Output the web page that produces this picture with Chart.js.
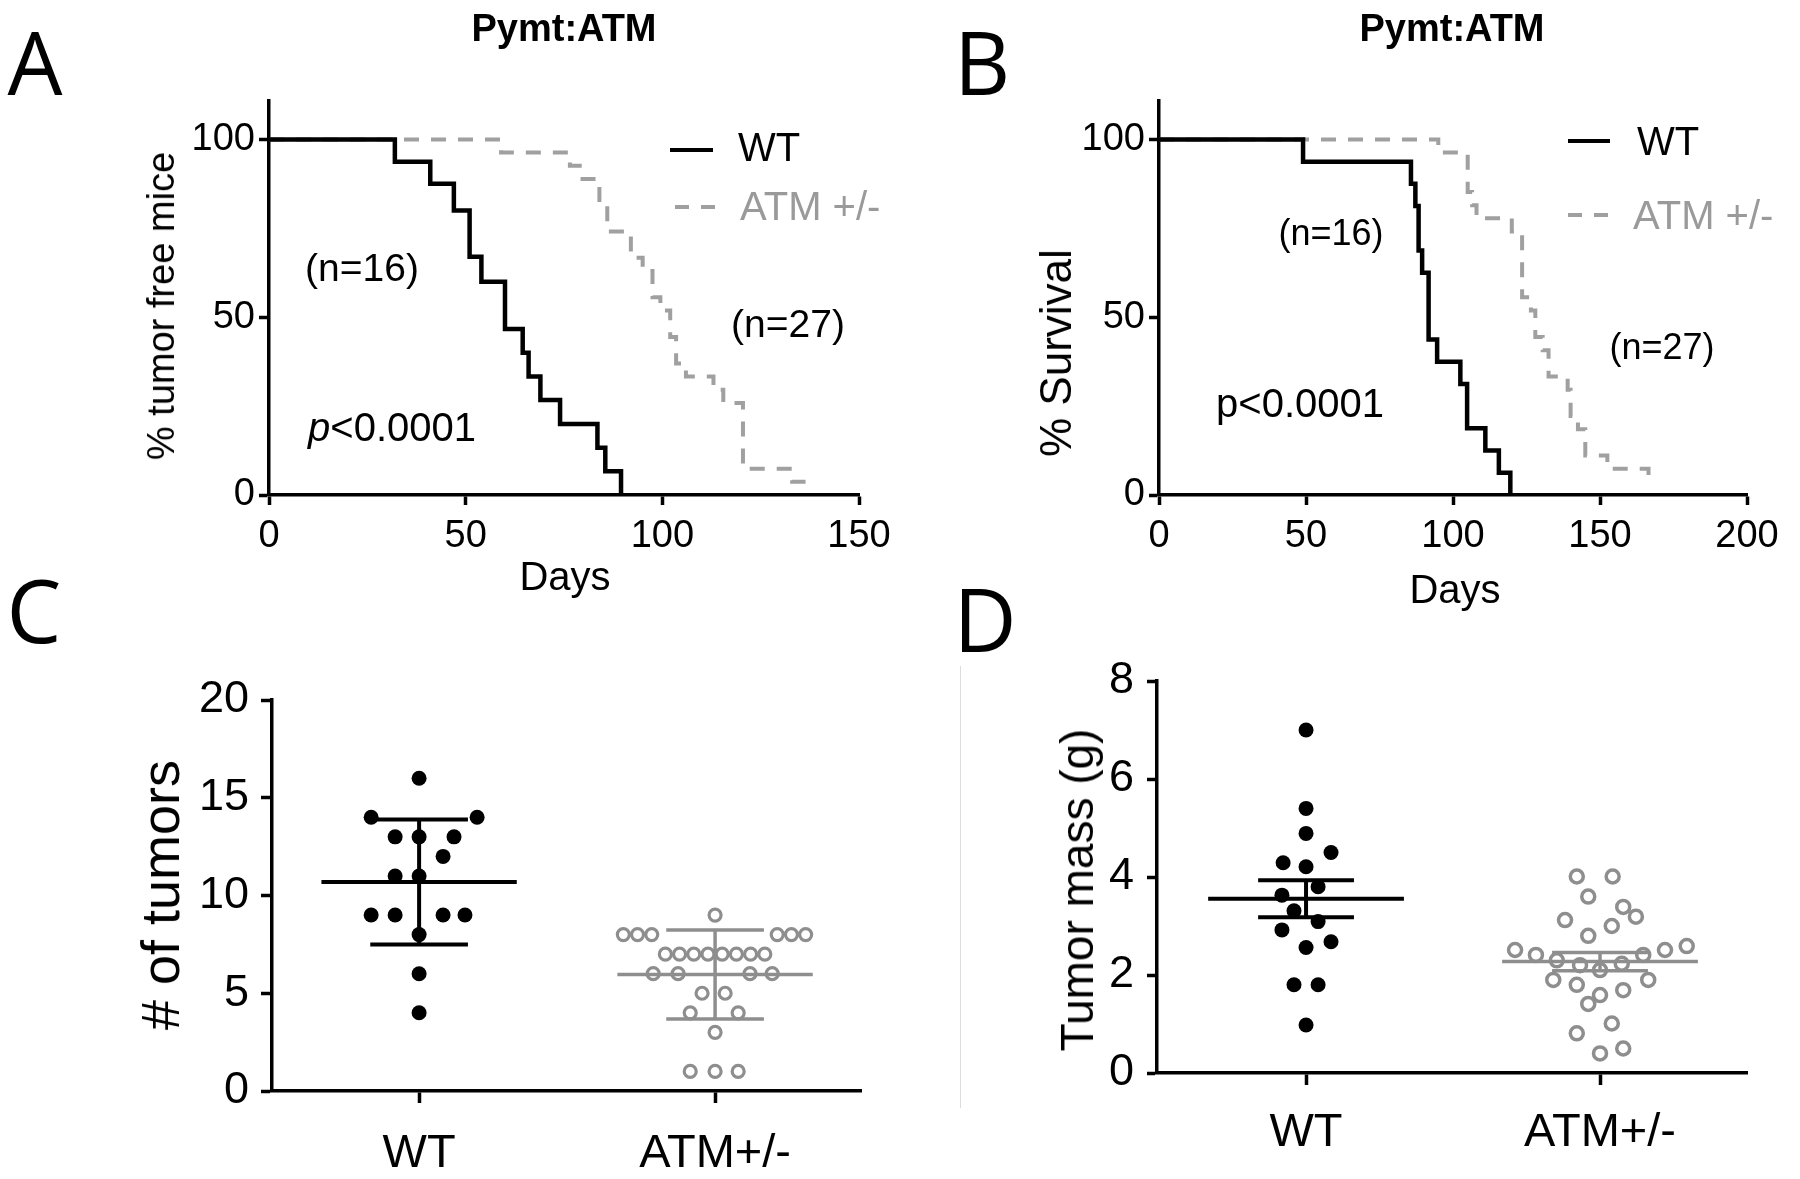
<!DOCTYPE html>
<html>
<head>
<meta charset="utf-8">
<title>Pymt:ATM</title>
<script src="https://cdn.jsdelivr.net/npm/chart.js@4.4.1/dist/chart.umd.min.js"></script>
<style>
  html, body { margin: 0; padding: 0; background: #fff; }
  #fig {
    position: relative;
    width: 1800px;
    height: 1179px;
    overflow: hidden;
    background: #fff;
    font-family: 'Liberation Sans', Arial, sans-serif;
    color: #000;
  }
  canvas { position: absolute; }
  .t { position: absolute; white-space: nowrap; line-height: 1; transform: translate(-50%, -50%); }
  .t.l { transform: translate(0, -50%); }
  .t.rot { transform: translate(-50%, -50%) rotate(-90deg); }
  .panel { font-family: 'Open Sans', sans-serif; font-size: 87px; }
  .title { font-weight: bold; font-size: 38px; }
  .grey { color: #9a9a9a; }
  .sw { position: absolute; height: 4px; }
  .sw.solid { background: #000; }
  .sw.dash { background: repeating-linear-gradient(90deg, #9f9f9f 0 14px, transparent 14px 26px); }
</style>
</head>
<body>
<div id="fig">
  <canvas id="chartA" width="900" height="620" style="left:0;top:0"></canvas>
  <canvas id="chartB" width="900" height="620" style="left:900px;top:0"></canvas>
  <canvas id="chartC" width="900" height="559" style="left:0;top:620px"></canvas>
  <canvas id="chartD" width="900" height="559" style="left:900px;top:620px"></canvas>

  <!-- panel A -->
  <div class="t panel" style="left:35px;top:61px">A</div>
  <div class="t title" style="left:564px;top:28px">Pymt:ATM</div>
  <div class="t rot" style="left:161px;top:306px;font-size:38px">% tumor free mice</div>
  <div class="t" style="left:565px;top:576px;font-size:40px">Days</div>
  <div class="sw solid" style="left:670px;top:148px;width:43px"></div>
  <div class="t l" style="left:738px;top:147px;font-size:40px">WT</div>
  <div class="sw dash" style="left:675px;top:205px;width:42px"></div>
  <div class="t l grey" style="left:740px;top:206px;font-size:40px">ATM +/-</div>
  <div class="t" style="left:362px;top:267px;font-size:39px">(n=16)</div>
  <div class="t" style="left:788px;top:323px;font-size:39px">(n=27)</div>
  <div class="t" style="left:392px;top:427px;font-size:40px"><i>p</i>&lt;0.0001</div>

  <!-- panel B -->
  <div class="t panel" style="left:982px;top:61px">B</div>
  <div class="t title" style="left:1452px;top:28px">Pymt:ATM</div>
  <div class="t rot" style="left:1056px;top:353px;font-size:44px">% Survival</div>
  <div class="t" style="left:1455px;top:589px;font-size:40px">Days</div>
  <div class="sw solid" style="left:1568px;top:139px;width:42px"></div>
  <div class="t l" style="left:1637px;top:141px;font-size:40px">WT</div>
  <div class="sw dash" style="left:1568px;top:213px;width:42px"></div>
  <div class="t l grey" style="left:1633px;top:215px;font-size:40px">ATM +/-</div>
  <div class="t" style="left:1331px;top:233px;font-size:36px">(n=16)</div>
  <div class="t" style="left:1662px;top:347px;font-size:36px">(n=27)</div>
  <div class="t" style="left:1300px;top:403px;font-size:40px">p&lt;0.0001</div>

  <!-- panel C -->
  <div class="t panel" style="left:34px;top:609px">C</div>
  <div class="t rot" style="left:160px;top:895px;font-size:54px"># of tumors</div>

  <!-- panel D -->
  <div class="t panel" style="left:985px;top:618px">D</div>
  <div class="t rot" style="left:1077px;top:890px;font-size:46px">Tumor mass (g)</div>

  <div style="position:absolute;left:960px;top:666px;width:1px;height:442px;background:#dcdcdc"></div>
</div>

<script>
// ---- data ----

// A: tumor free mice (Kaplan-Meier steps: day of event, % after event)
const daysA_WT = [0, 32, 41, 47, 51, 54, 60, 64.5, 66, 69, 74, 83.5, 85.5, 89.5];
const freeA_WT = [100, 93.75, 87.5, 80, 67, 60, 46.7, 40, 33.3, 26.7, 20, 13.3, 6.7, 0];
const daysA_ATM = [0, 59, 76.5, 79, 84, 86, 92, 95, 97.5, 99.5, 102, 103.5, 106, 113, 115.5, 120.5, 133, 138];
const freeA_ATM = [100, 96.3, 92.6, 88.9, 81.5, 74.1, 66.7, 63, 55.6, 51.9, 44.4, 37, 33.3, 29.6, 25.9, 7.4, 3.7, 3.7];

// B: survival
const daysB_WT = [0, 49, 85.7, 87.2, 88.3, 89.5, 91.7, 94.6, 102.5, 104.8, 111, 115.6, 119.5];
const survB_WT = [100, 93.75, 87.5, 81.25, 68.75, 62.5, 43.75, 37.5, 31.25, 18.75, 12.5, 6.25, 0];
const daysB_ATM = [0, 95, 105, 106.5, 108, 120, 123.5, 126.5, 128, 130.5, 132.5, 139, 140, 142.5, 145, 152.5, 166.5, 168];
const survB_ATM = [100, 96.3, 85.2, 81.5, 77.8, 74.1, 55.6, 51.9, 44.4, 40.7, 33.3, 29.6, 22.2, 18.5, 11.1, 7.4, 3.7, 3.7];

const groups = ['WT', 'ATM+/-'];

// C: number of tumors per mouse (+ horizontal scatter spread, in category widths)
const tumorsWT = [16, 14, 14, 13, 13, 13, 12, 11, 11, 9, 9, 9, 9, 8, 6, 4];
const tumorsWTSpread = [0, -0.162, 0.196, -0.081, 0, 0.118, 0.081, -0.081, 0, -0.162, -0.081, 0.081, 0.155, 0, 0, 0];
const tumorsATM = [9, 8, 8, 8, 8, 8, 8, 7, 7, 7, 7, 7, 7, 7, 7, 6, 6, 6, 6, 5, 5, 4, 4, 3, 1, 1, 1];
const tumorsATMSpread = [0, -0.31, -0.262, -0.214, 0.21, 0.258, 0.306,
  -0.168, -0.12, -0.072, -0.024, 0.024, 0.072, 0.12, 0.168,
  -0.209, -0.125, 0.118, 0.193, -0.044, 0.034, -0.084, 0.078, 0, -0.084, 0, 0.078];

// D: tumor mass (g)
const massWT = [7.0, 5.4, 4.89, 4.5, 4.29, 4.21, 3.8, 3.63, 3.31, 3.09, 2.92, 2.68, 2.56, 1.8, 1.8, 0.98];
const massWTSpread = [0, 0, 0, 0.085, -0.078, 0, 0.041, -0.082, -0.041, 0.041, -0.082, 0.085, 0, -0.041, 0.041, 0];
const massATM = [4.01, 4.01, 3.6, 3.39, 3.19, 3.12, 3.0, 2.8, 2.51, 2.41, 2.59, 2.51, 2.41,
  2.3, 2.2, 2.1, 2.23, 1.9, 1.8, 1.9, 1.69, 1.59, 1.41, 1.01, 0.81, 0.5, 0.4];
const massATMSpread = [-0.079, 0.043, -0.04, 0.079, 0.122, -0.119, 0.04, -0.04, -0.289, -0.218, 0.295, 0.221, 0.147,
  -0.147, -0.068, 0, 0.074, -0.159, -0.079, 0.164, 0.079, 0, -0.04, 0.04, -0.079, 0.079, 0];

// ---- helpers ----

const BLACK = '#000';
const GREY = '#a0a0a0';
const GREY_PT = '#8e8e8e';

Chart.defaults.font.family = "'Liberation Sans', Arial, sans-serif";
Chart.defaults.color = BLACK;
Chart.defaults.animation = false;

const toXY = (xs, ys) => xs.map((x, i) => ({ x: x, y: ys[i] }));

function mean(arr) {
  return arr.reduce((a, b) => a + b, 0) / arr.length;
}
function sd(arr) {
  const m = mean(arr);
  return Math.sqrt(arr.reduce((a, b) => a + (b - m) * (b - m), 0) / (arr.length - 1));
}

// an axis with outside ticks, no grid, thick black border
function axis(opts) {
  return {
    type: 'linear',
    min: opts.min,
    max: opts.max,
    border: { display: true, color: BLACK, width: 3.5 },
    grid: { drawOnChartArea: false, drawTicks: true, tickLength: opts.tickLength || 10, tickWidth: 3.5, tickColor: BLACK, color: BLACK },
    ticks: {
      stepSize: opts.step,
      color: BLACK,
      padding: opts.padding,
      maxRotation: 0,
      autoSkip: false,
      font: { size: opts.fontSize },
      callback: opts.callback
    },
    afterBuildTicks: opts.keep ? (s) => { s.ticks = opts.keep.map(v => ({ value: v })); } : undefined,
    afterFit: (s) => {
      if (opts.width) s.width = opts.width;
      if (opts.height) s.height = opts.height;
    }
  };
}

function stepLine(xs, ys, color, dashed) {
  return {
    data: toXY(xs, ys),
    showLine: true,
    stepped: 'before',
    borderColor: color,
    borderWidth: dashed ? 4 : 4.5,
    borderDash: dashed ? [15, 12] : [],
    pointRadius: 0,
    fill: false
  };
}

// mean line + error bar for one group, built from the group's values
function errorBar(center, m, e, halfMean, halfCap, color, width) {
  const seg = (pts) => ({
    data: pts,
    showLine: true,
    borderColor: color,
    borderWidth: width,
    pointRadius: 0,
    borderCapStyle: 'butt'
  });
  return [
    seg([{ x: center - halfMean, y: m }, { x: center + halfMean, y: m }]),
    seg([{ x: center - halfCap, y: m + e }, { x: center + halfCap, y: m + e }]),
    seg([{ x: center - halfCap, y: m - e }, { x: center + halfCap, y: m - e }]),
    seg([{ x: center, y: m - e }, { x: center, y: m + e }])
  ];
}

const noPlugins = { legend: { display: false }, tooltip: { enabled: false } };

// ---- A: tumor free ----
new Chart(document.getElementById('chartA'), {
  type: 'scatter',
  data: {
    datasets: [
      stepLine(daysA_WT, freeA_WT, BLACK, false),
      stepLine(daysA_ATM, freeA_ATM, GREY, true)
    ]
  },
  options: {
    responsive: false,
    layout: { padding: { left: 0, top: 101, right: 41, bottom: 0 } },
    plugins: noPlugins,
    scales: {
      x: axis({ min: 0, max: 150, step: 50, fontSize: 38, padding: 9, height: 125 }),
      y: axis({ min: 0, max: 110.8, step: 50, fontSize: 38, padding: 4, width: 269, keep: [0, 50, 100] })
    }
  }
});

// ---- B: survival ----
new Chart(document.getElementById('chartB'), {
  type: 'scatter',
  data: {
    datasets: [
      stepLine(daysB_WT, survB_WT, BLACK, false),
      stepLine(daysB_ATM, survB_ATM, GREY, true)
    ]
  },
  options: {
    responsive: false,
    layout: { padding: { left: 0, top: 101, right: 53, bottom: 0 } },
    plugins: noPlugins,
    scales: {
      x: axis({ min: 0, max: 200, step: 50, fontSize: 38, padding: 9, height: 125 }),
      y: axis({ min: 0, max: 110.8, step: 50, fontSize: 38, padding: 4, width: 259, keep: [0, 50, 100] })
    }
  }
});

// ---- C: number of tumors, mean +/- SD ----
const mC1 = mean(tumorsWT), eC1 = sd(tumorsWT);
const mC2 = mean(tumorsATM), eC2 = sd(tumorsATM);

new Chart(document.getElementById('chartC'), {
  type: 'scatter',
  data: {
    datasets: [
      ...errorBar(1, mC1, eC1, 0.33, 0.165, BLACK, 4),
      ...errorBar(2, mC2, eC2, 0.33, 0.165, GREY_PT, 3.5),
      {
        data: tumorsWT.map((v, i) => ({ x: 1 + tumorsWTSpread[i], y: v })),
        pointRadius: 7.5,
        pointBackgroundColor: BLACK,
        pointBorderColor: BLACK,
        pointBorderWidth: 0
      },
      {
        data: tumorsATM.map((v, i) => ({ x: 2 + tumorsATMSpread[i], y: v })),
        pointRadius: 6,
        pointBackgroundColor: 'rgba(255,255,255,0)',
        pointBorderColor: GREY_PT,
        pointBorderWidth: 3.2
      }
    ]
  },
  options: {
    responsive: false,
    layout: { padding: { left: 0, top: 80, right: 39, bottom: 0 } },
    plugins: noPlugins,
    scales: {
      x: axis({ min: 0.503, max: 2.493, fontSize: 47, padding: 23, tickLength: 12, height: 88,
                keep: [1, 2], callback: v => groups[v - 1] }),
      y: axis({ min: 0, max: 20, step: 5, fontSize: 45, padding: 12, tickLength: 11, width: 272 })
    }
  }
});

// ---- D: tumor mass, mean +/- SEM ----
const mD1 = mean(massWT), eD1 = sd(massWT) / Math.sqrt(massWT.length);
const mD2 = mean(massATM), eD2 = sd(massATM) / Math.sqrt(massATM.length);

new Chart(document.getElementById('chartD'), {
  type: 'scatter',
  data: {
    datasets: [
      ...errorBar(1, mD1, eD1, 0.333, 0.163, BLACK, 4),
      ...errorBar(2, mD2, eD2, 0.333, 0.163, GREY_PT, 3.5),
      {
        data: massWT.map((v, i) => ({ x: 1 + massWTSpread[i], y: v })),
        pointRadius: 7.5,
        pointBackgroundColor: BLACK,
        pointBorderColor: BLACK,
        pointBorderWidth: 0
      },
      {
        data: massATM.map((v, i) => ({ x: 2 + massATMSpread[i], y: v })),
        pointRadius: 6.5,
        pointBackgroundColor: 'rgba(255,255,255,0)',
        pointBorderColor: GREY_PT,
        pointBorderWidth: 3.5
      }
    ]
  },
  options: {
    responsive: false,
    layout: { padding: { left: 0, top: 61, right: 53, bottom: 0 } },
    plugins: noPlugins,
    scales: {
      x: axis({ min: 0.493, max: 2.5, fontSize: 47, padding: 20, tickLength: 12, height: 106,
                keep: [1, 2], callback: v => groups[v - 1] }),
      y: axis({ min: 0, max: 8, step: 2, fontSize: 45, padding: 13, tickLength: 10, width: 257 })
    }
  }
});
</script>
</body>
</html>
